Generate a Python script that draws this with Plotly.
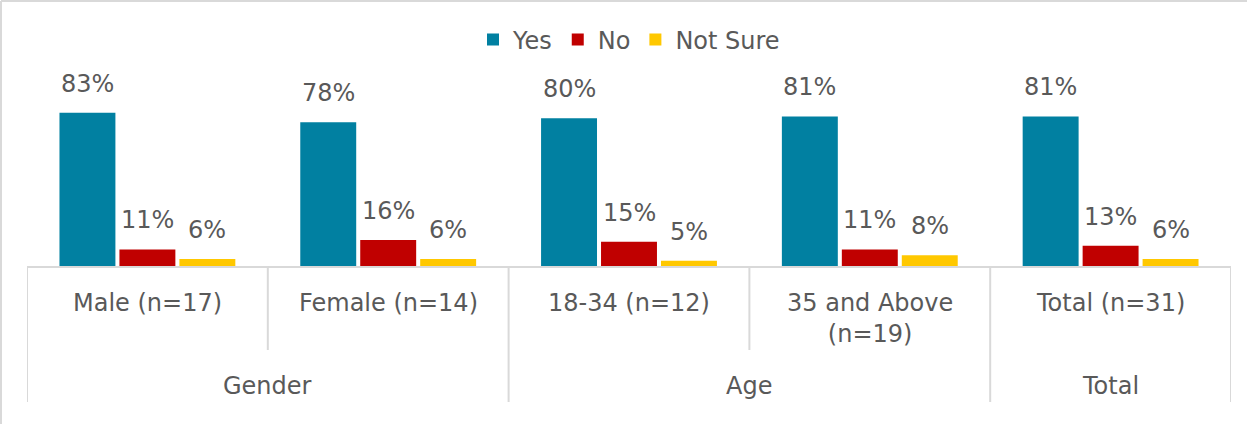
import plotly.graph_objects as go

# Survey results by segment
segments = ["Male (n=17)", "Female (n=14)", "18-34 (n=12)", "35 and Above<br>(n=19)", "Total (n=31)"]
segment_group = ["Gender", "Gender", "Age", "Age", "Total"]
groups = ["Gender", "Age", "Total"]

series_names = ["Yes", "No", "Not Sure"]
yes = [83, 78, 80, 81, 81]
no = [11, 16, 15, 11, 13]
not_sure = [6, 6, 5, 8, 6]
series_values = [yes, no, not_sure]
series_colors = ["#0180A1", "#C00000", "#FFC800"]

FONT = "DejaVu Sans"
TEXT = "#595959"
LINE = "#D9D9D9"
W, H = 1247, 424
M_L, M_R, M_T, M_B = 27, 16, 60, 158
PLOT_W = W - M_L - M_R
PLOT_H = H - M_T - M_B
BARGAP = 0.253
SLOT = (1 - BARGAP) / len(series_names)
Y_MIN = 2.3
PX_PER_UNIT = 1.9

x_idx = list(range(len(segments)))

fig = go.Figure()
for name, vals, color in zip(series_names, series_values, series_colors):
    fig.add_trace(go.Bar(
        name=name, x=x_idx, y=vals,
        marker=dict(color=color, line=dict(width=0)),
        hoverinfo="skip",
    ))

annotations = []
# value labels above each bar
for k, vals in enumerate(series_values):
    for i, v in enumerate(vals):
        annotations.append(dict(
            x=i + (k - 1) * SLOT, y=v, xref="x", yref="y",
            text=f"{v}%", showarrow=False, yanchor="middle", yshift=29,
            font=dict(family=FONT, size=24, color=TEXT),
        ))

# segment labels (inner tier)
for i, seg in enumerate(segments):
    annotations.append(dict(
        x=i, y=0, xref="x", yref="paper", text=seg, showarrow=False,
        yanchor="top", yshift=-21, align="center",
        font=dict(family=FONT, size=24, color=TEXT),
    ))

# group labels (outer tier)
for g in groups:
    idx = [i for i, sg in enumerate(segment_group) if sg == g]
    annotations.append(dict(
        x=(idx[0] + idx[-1]) / 2, y=0, xref="x", yref="paper", text=g,
        showarrow=False, yanchor="middle", yshift=-120,
        font=dict(family=FONT, size=24, color=TEXT),
    ))

shapes = []
# tier separators below the axis
for b in range(len(segments) + 1):
    is_group_edge = (b == 0 or b == len(segments)
                     or segment_group[b - 1] != segment_group[b])
    depth = 136 if is_group_edge else 84
    shapes.append(dict(
        type="line", xref="x", yref="paper", ysizemode="pixel", yanchor=0,
        x0=b - 0.5, x1=b - 0.5, y0=0, y1=-depth,
        line=dict(color=LINE, width=2),
    ))

# chart frame edges (left and top)
left_x = (1 - M_L) / PLOT_W
top_y = 1 + (M_T - 1) / PLOT_H
bottom_y = -(H - M_T - PLOT_H) / PLOT_H
right_x = 1 + M_R / PLOT_W
shapes.append(dict(type="line", xref="paper", yref="paper",
                   x0=left_x, x1=left_x, y0=bottom_y, y1=top_y,
                   line=dict(color=LINE, width=2)))
shapes.append(dict(type="line", xref="paper", yref="paper",
                   x0=left_x, x1=right_x, y0=top_y, y1=top_y,
                   line=dict(color=LINE, width=2)))

fig.update_layout(
    width=W, height=H,
    margin=dict(l=M_L, r=M_R, t=M_T, b=M_B),
    paper_bgcolor="white", plot_bgcolor="white",
    barmode="group", bargap=BARGAP, bargroupgap=0.067,
    showlegend=True,
    legend=dict(
        orientation="h", x=0.5, xanchor="center",
        y=1 + 20 / PLOT_H, yanchor="middle",
        font=dict(family=FONT, size=24, color=TEXT),
        itemclick=False, itemdoubleclick=False,
    ),
    xaxis=dict(
        range=[-0.5, len(segments) - 0.5], showticklabels=False, ticks="",
        showgrid=False, zeroline=False,
        showline=True, linecolor=LINE, linewidth=2,
    ),
    yaxis=dict(
        range=[Y_MIN, Y_MIN + PLOT_H / PX_PER_UNIT], visible=False,
        showgrid=False, zeroline=False,
    ),
    annotations=annotations,
    shapes=shapes,
)

fig.write_html("out.html", config={"displayModeBar": False})
